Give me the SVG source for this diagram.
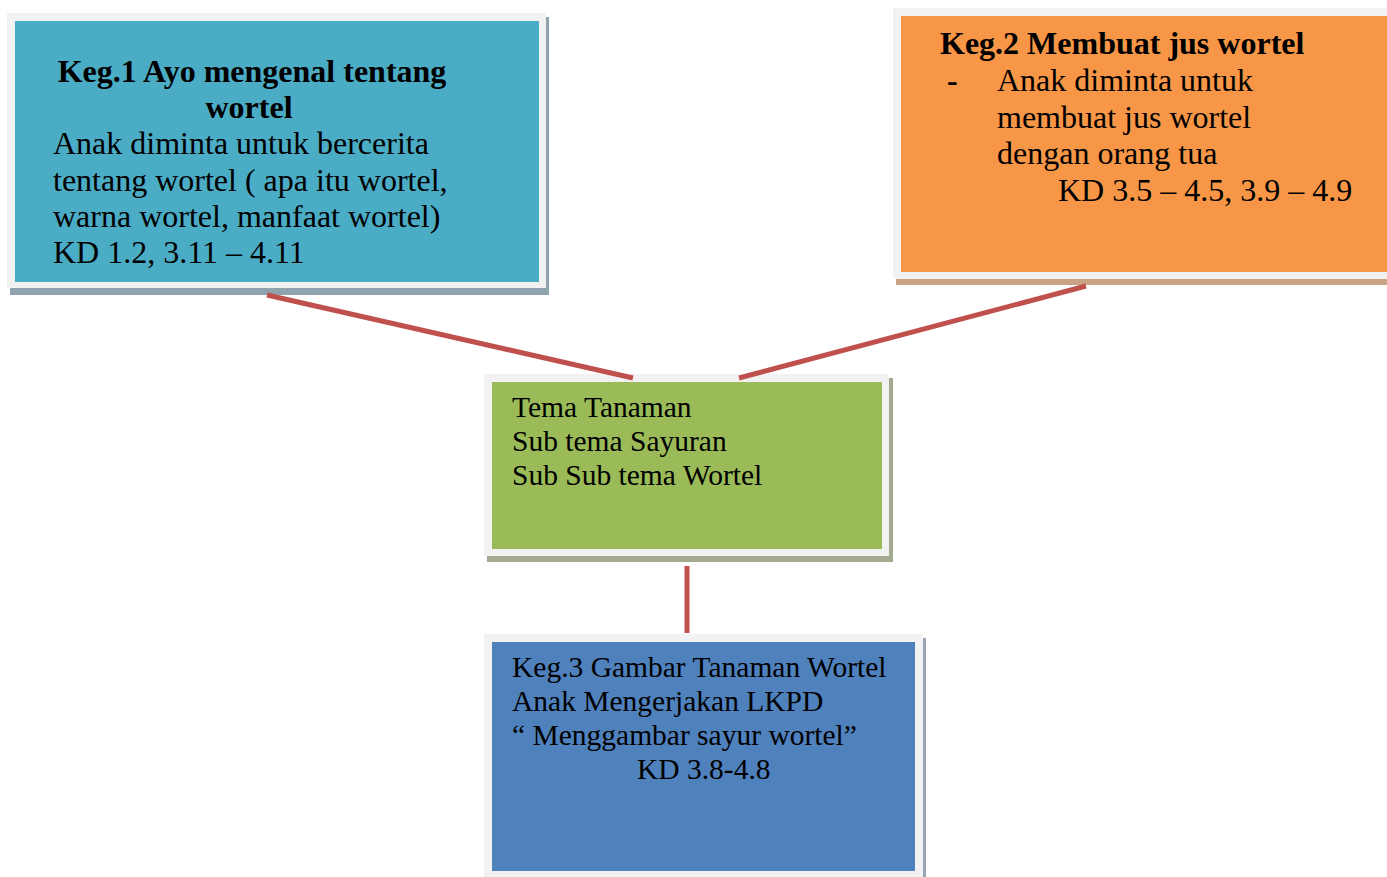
<svg xmlns="http://www.w3.org/2000/svg" width="1387" height="877" viewBox="0 0 1387 877">
<style>
.frame{fill:#f2f2f2}
.t{font-family:"Liberation Serif","Times New Roman",serif;fill:#000}
.b{font-weight:bold}
.conn{stroke:#c0504d;stroke-width:5;fill:none}
</style>
<rect width="1387" height="877" fill="#fff"/>
<g id="keg1">
<rect x="10" y="17" width="539" height="278" fill="#8ea3ae"/>
<rect class="frame" x="7" y="13" width="539" height="275"/>
<rect x="15" y="21" width="524" height="261" fill="#4bacc6"/>
<g class="t" font-size="32">
<text class="b" x="252" y="82" text-anchor="middle">Keg.1 Ayo mengenal tentang</text>
<text class="b" x="249" y="118" text-anchor="middle">wortel</text>
<text x="53" y="154">Anak diminta untuk bercerita</text>
<text x="53" y="191">tentang wortel ( apa itu wortel,</text>
<text x="53" y="227">warna wortel, manfaat wortel)</text>
<text x="53" y="263">KD 1.2, 3.11 – 4.11</text>
</g>
</g>
<g id="keg2">
<rect x="896" y="14" width="491" height="271" fill="#c9a383"/>
<rect class="frame" x="893" y="8" width="494" height="271"/>
<rect x="901" y="16" width="486" height="256" fill="#f79646"/>
<g class="t" font-size="32">
<text class="b" x="940" y="54">Keg.2 Membuat jus wortel</text>
<text class="b" x="947" y="91">-</text>
<text x="997" y="91">Anak diminta untuk</text>
<text x="997" y="128">membuat jus wortel</text>
<text x="997" y="164">dengan orang tua</text>
<text x="1058" y="201">KD 3.5 – 4.5, 3.9 – 4.9</text>
</g>
</g>
<g id="tema">
<rect x="487" y="378" width="406" height="184" fill="#a3ab8f"/>
<rect class="frame" x="484" y="374" width="405" height="182"/>
<rect x="492" y="382" width="390" height="167" fill="#9bbb59"/>
<g class="t" font-size="29.5">
<text x="512" y="417">Tema Tanaman</text>
<text x="512" y="451">Sub tema Sayuran</text>
<text x="512" y="485">Sub Sub tema Wortel</text>
</g>
</g>
<g id="keg3">
<rect x="487" y="638" width="439" height="239" fill="#9aa5b5"/>
<rect class="frame" x="484" y="634" width="439" height="243"/>
<rect x="492" y="642" width="423" height="229" fill="#4f81bd"/>
<g class="t" font-size="29.5">
<text x="512" y="677">Keg.3 Gambar Tanaman Wortel</text>
<text x="512" y="711">Anak Mengerjakan LKPD</text>
<text x="512" y="745">“ Menggambar sayur wortel”</text>
<text x="637" y="779">KD 3.8-4.8</text>
</g>
</g>
<g id="connectors">
<line class="conn" x1="267" y1="295" x2="633" y2="378"/>
<line class="conn" x1="1086" y1="286" x2="739" y2="378"/>
<line class="conn" x1="687" y1="566" x2="687" y2="633"/>
</g>
</svg>
